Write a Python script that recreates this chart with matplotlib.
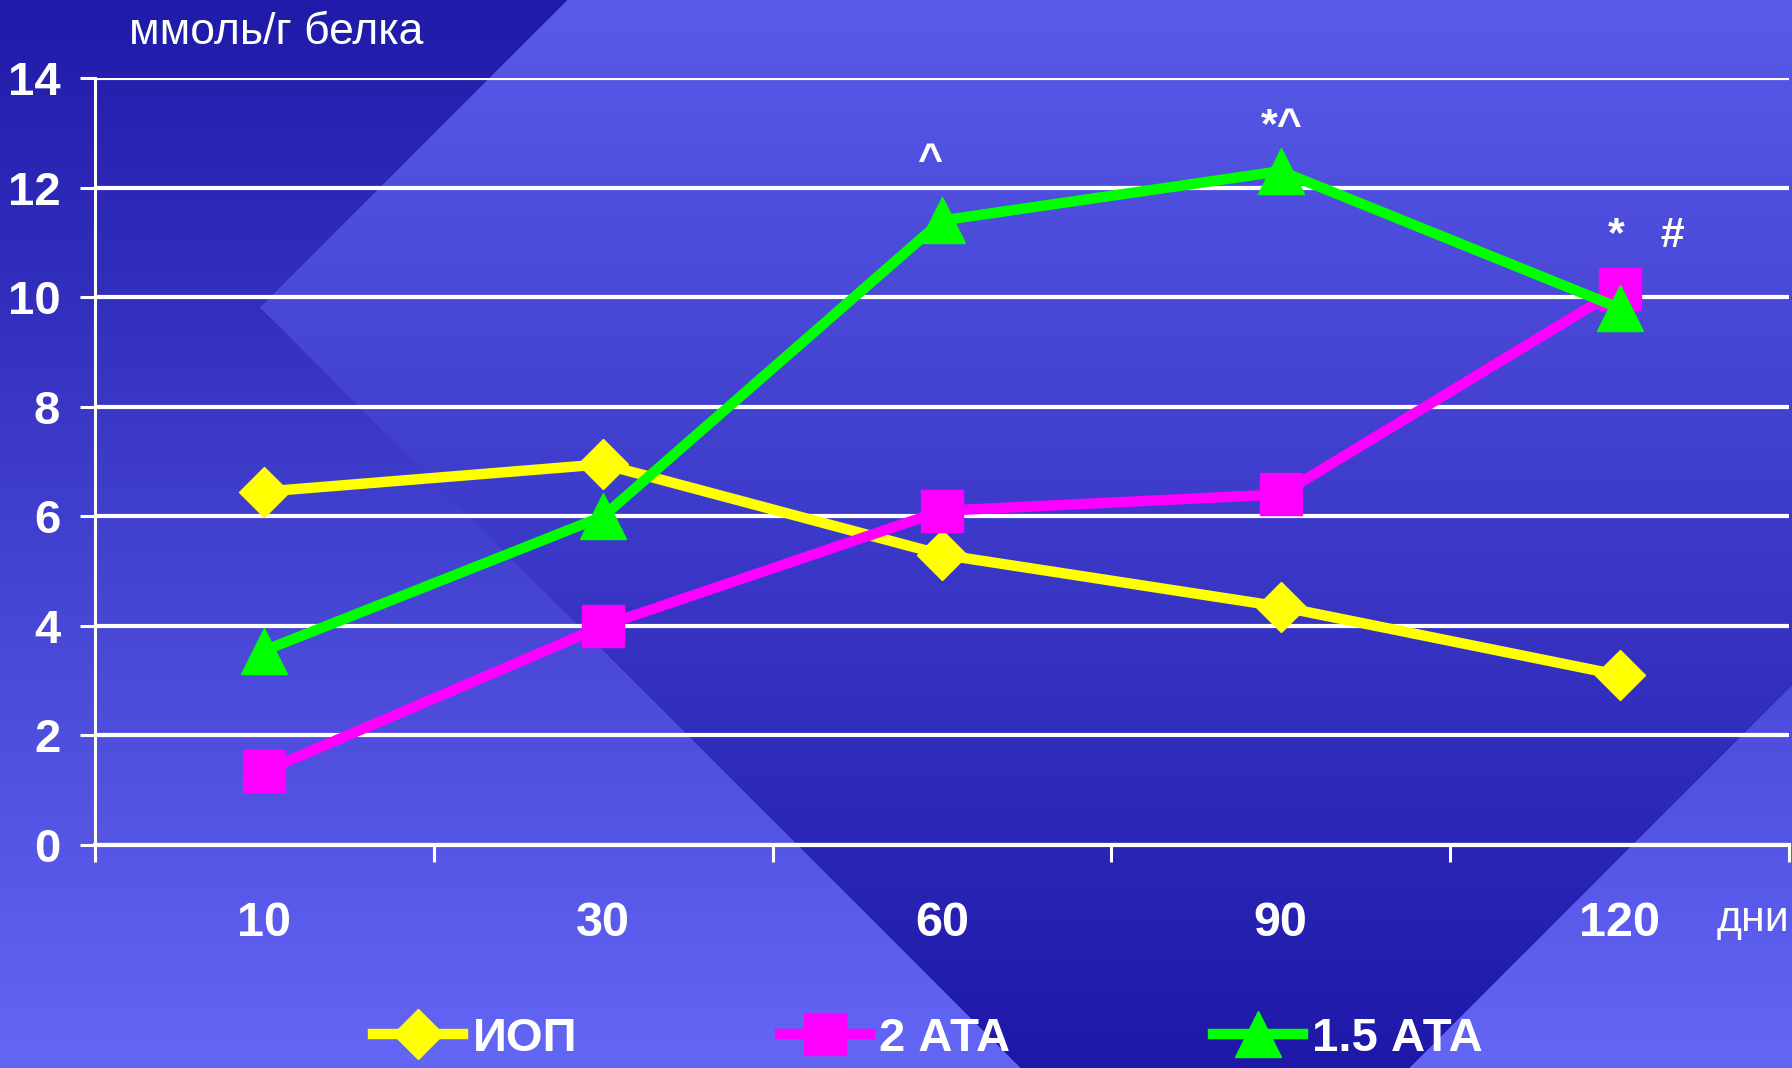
import numpy as np
import matplotlib
matplotlib.use('Agg')
import matplotlib.pyplot as plt

plt.rcParams['font.family'] = ['Liberation Sans Narrow', 'Liberation Sans', 'DejaVu Sans']

# values
days = ['10', '30', '60', '90', '120']
iop = [6.45, 6.95, 5.3, 4.35, 3.1]
ata_2 = [1.35, 4.0, 6.1, 6.4, 10.15]
ata_15 = [3.55, 6.0, 11.4, 12.3, 9.8]
y_ticks = [0, 2, 4, 6, 8, 10, 12, 14]

# significance marks: (text, series, day index)
marks = [('^', 'ata_15', 2), ('*^', 'ata_15', 3), ('*   #', 'ata_2', 4)]

W, H = 1792, 1068
fig = plt.figure(figsize=(W / 100, H / 100), dpi=100)


def background():
    yy, xx = np.mgrid[0:H, 0:W].astype(float)
    t = (yy / (H - 1))[..., None]
    out_top = np.array([0x20, 0x1A, 0xA8]) / 255
    out_bot = np.array([0x64, 0x66, 0xF6]) / 255
    in_top = np.array([0x5A, 0x5B, 0xEA]) / 255
    in_bot = np.array([0x1E, 0x18, 0xA8]) / 255
    outside = out_top + (out_bot - out_top) * t
    inside = in_top + (in_bot - in_top) * t
    diamond = ((xx - yy > -48) & (xx + yy > 566) &
               (xx + yy < 2477) & (xx - yy < 1861))[..., None]
    return np.where(diamond, inside, outside)


bg = fig.add_axes([0, 0, 1, 1], zorder=-1)
bg.imshow(background(), aspect='auto', interpolation='bilinear')
bg.axis('off')

ax = fig.add_axes([95 / W, 1 - 845 / H, (1789 - 95) / W, (845 - 78) / H])
ax.patch.set_alpha(0)

x = np.arange(len(days))
series = {
    'iop': ax.plot(x, iop, color='#FFFF00', lw=7.5, marker='D', ms=25,
                   label='ИОП', clip_on=False)[0],
    'ata_2': ax.plot(x, ata_2, color='#FF00FF', lw=7.5, marker='s', ms=30,
                     label='2 АТА', clip_on=False)[0],
    'ata_15': ax.plot(x, ata_15, color='#00FF00', lw=7.5, marker='^', ms=33,
                      label='1.5 АТА', clip_on=False)[0],
}
data = {'iop': iop, 'ata_2': ata_2, 'ata_15': ata_15}

offsets = {'^': (-9, 42), '*^': (1, 32), '*   #': (19, 38)}
for txt, key, i in marks:
    ax.annotate(txt, xy=(x[i], data[key][i]), xytext=offsets[txt],
                textcoords='offset points', ha='center', va='center',
                color='white', fontsize=31, fontweight='bold')

ax.set_xlim(-0.5, len(days) - 0.5)
ax.set_ylim(0, 14)
ax.set_yticks(y_ticks)
ax.set_yticklabels([str(v) for v in y_ticks])
ax.set_xticks(x)
ax.set_xticklabels(days)
ax.set_xticks(np.arange(-0.5, len(days)), minor=True)

ax.grid(axis='y', color='white', lw=3, zorder=0)
ax.tick_params(axis='y', colors='white', length=11, width=2.2, pad=14,
               labelsize=34)
for lbl in ax.get_yticklabels():
    lbl.set_fontweight('bold')
ax.tick_params(axis='x', which='major', length=0, pad=40, labelsize=35,
               labelcolor='white')
for lbl in ax.get_xticklabels():
    lbl.set_fontweight('bold')
ax.tick_params(axis='x', which='minor', length=12, width=2.2, color='white')

for side in ['top', 'right']:
    ax.spines[side].set_visible(False)
ax.spines['left'].set_color('white')
ax.spines['left'].set_linewidth(2.2)
ax.spines['bottom'].set_color('white')
ax.spines['bottom'].set_linewidth(3)

fig.text(276 / W, 1 - 32 / H, 'ммоль/г белка', color='white', fontsize=32,
         ha='center', va='center')
fig.text(1789 / W, 1 - 920 / H, 'дни', color='white', fontsize=31,
         ha='right', va='center')

leg = fig.legend(handles=list(series.values()), loc='center',
                 bbox_to_anchor=(0.518, 1 - 1039 / H), ncol=3, frameon=False,
                 handlelength=1.9, columnspacing=4.3, handletextpad=0.2,
                 borderpad=0, prop={'size': 34, 'weight': 'bold'})
for t in leg.get_texts():
    t.set_color('white')

fig.savefig('out.png', dpi=100)
